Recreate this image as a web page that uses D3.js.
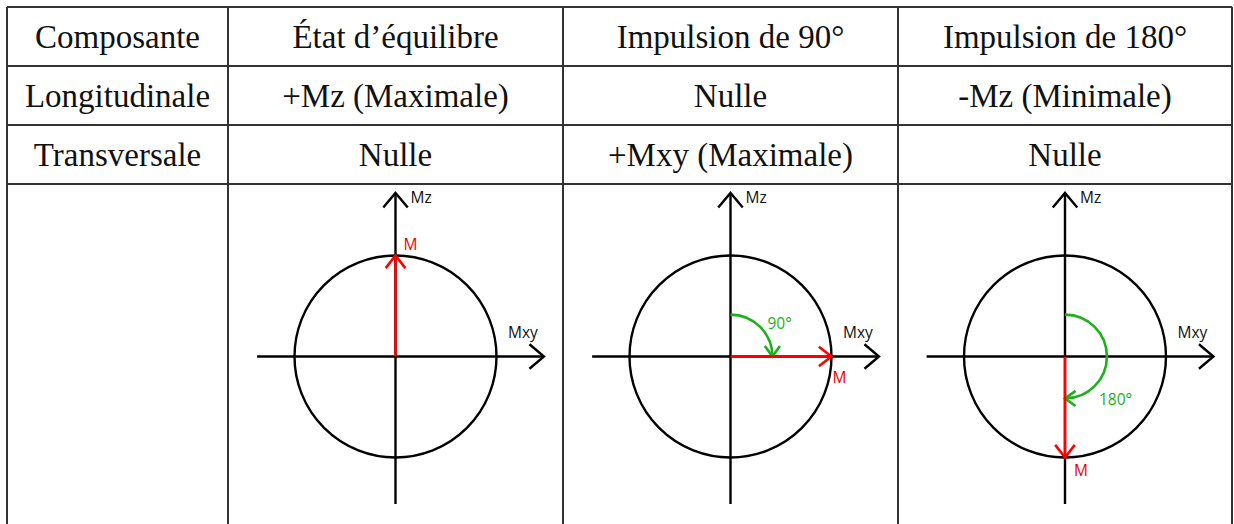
<html>
<head>
    <title>Magnetisation table</title>
    <meta charset="utf-8" />
    <style>
      body {
    margin: 0;
    padding: 0;
    background: #fff;
}
    </style>
    <script src="https://d3js.org/d3.v7.min.js"></script>
</head>
<body>
    <script>
// table content
var headers = ["Composante", "\u00c9tat d\u2019\u00e9quilibre", "Impulsion de 90\u00b0", "Impulsion de 180\u00b0"];
var rowNames = ["Longitudinale", "Transversale"];
var longitudinal = ["+Mz (Maximale)", "Nulle", "-Mz (Minimale)"];
var transversal = ["Nulle", "+Mxy (Maximale)", "Nulle"];

// flip angle of each diagram (degrees), and its label
var pulseAngles = [0, 90, 180];
var angleLabels = ["", "90\u00b0", "180\u00b0"];
var axisNames = ["Mz", "Mxy"];
var vectorName = "M";

var W = 1234, H = 524;
var colEdges = [7, 228, 563, 898, 1232];
var rowEdges = [7, 66, 125, 184];
var R = 101, cyDiag = 356.5;
var serif = "'Liberation Serif', 'Times New Roman', serif";
var sans = "'Open Sans', 'Noto Sans', sans-serif";
var green = "#1cb01c", red = "#f00";

// label placement per diagram (pixels, relative to arrow tip / centre)
var mOffset = [[8, -6], [1, 26], [9, 18]];
var angOffset = [[0, 0], [37, -28], [34, 48]];

var svg = d3.select("body").append("svg")
    .attr("width", W)
    .attr("height", H);

// grid
var grid = svg.append("g")
    .style("stroke", "#333")
    .style("stroke-width", 1.2)
    .style("shape-rendering", "crispEdges");
grid.selectAll("line.h").data(rowEdges).enter().append("line")
    .attr("x1", colEdges[0]).attr("x2", colEdges[colEdges.length - 1])
    .attr("y1", function (d) { return d; }).attr("y2", function (d) { return d; });
grid.selectAll("line.v").data(colEdges).enter().append("line")
    .attr("x1", function (d) { return d; }).attr("x2", function (d) { return d; })
    .attr("y1", rowEdges[0]).attr("y2", H);

function colMid(i) { return (colEdges[i] + colEdges[i + 1]) / 2; }

var rows = [headers, [rowNames[0]].concat(longitudinal), [rowNames[1]].concat(transversal)];
rows.forEach(function (row, r) {
    svg.append("g").selectAll("text").data(row).enter().append("text")
        .style("font-family", serif)
        .style("font-size", "33px")
        .style("fill", "#111")
        .attr("text-anchor", "middle")
        .attr("x", function (d, i) { return colMid(i); })
        .attr("y", (rowEdges[r] + rowEdges[r + 1]) / 2 + 11)
        .text(function (d) { return d; });
});

// chevron arrowhead at (tx,ty) pointing along (dx,dy)
function chevron(tx, ty, dx, dy, len, half) {
    var a = Math.atan2(dy, dx);
    var p1 = [tx - len * Math.cos(a - half), ty - len * Math.sin(a - half)];
    var p2 = [tx - len * Math.cos(a + half), ty - len * Math.sin(a + half)];
    return d3.line()([p1, [tx, ty], p2]);
}

function stroke(sel, color, w) {
    return sel.style("fill", "none").style("stroke", color).style("stroke-width", w);
}

function label(g, txt, x, y, color) {
    return g.append("text")
        .style("font-family", sans)
        .style("font-size", "15.5px")
        .style("fill", color)
        .attr("x", x).attr("y", y)
        .text(txt);
}

pulseAngles.forEach(function (deg, i) {
    var cx = colMid(i + 1);
    var x = d3.scaleLinear().domain([-1, 1]).range([cx - R, cx + R]);
    var y = d3.scaleLinear().domain([-1, 1]).range([cyDiag + R, cyDiag - R]);
    var g = svg.append("g");

    // axes
    var top = y(1.62), bottom = y(-1.46), left = x(-1.37), right = x(1.47);
    stroke(g.append("line"), "#000", 2.4)
        .attr("x1", x(0)).attr("x2", x(0)).attr("y1", bottom).attr("y2", top);
    stroke(g.append("path"), "#000", 2.4)
        .attr("d", chevron(x(0), top, 0, -1, 19, 0.7));
    stroke(g.append("line"), "#000", 2.4)
        .attr("x1", left).attr("x2", right).attr("y1", y(0)).attr("y2", y(0));
    stroke(g.append("path"), "#000", 2.4)
        .attr("d", chevron(right, y(0), 1, 0, 19, 0.7));
    label(g, axisNames[0], x(0) + 15, top + 10, "#111");
    label(g, axisNames[1], right - 36, y(0) - 19, "#111");

    // unit circle
    stroke(g.append("circle"), "#000", 2.4)
        .attr("cx", x(0)).attr("cy", y(0)).attr("r", x(1) - x(0));

    // green flip angle arc
    var th = deg * Math.PI / 180;
    if (deg > 0) {
        var ra = (x(0.415) - x(0));
        var arc = d3.arc().innerRadius(ra).outerRadius(ra).startAngle(0).endAngle(th);
        stroke(g.append("path"), green, 2.6)
            .attr("transform", "translate(" + x(0) + "," + y(0) + ")")
            .attr("d", arc());
        var ex = x(0) + ra * Math.sin(th), ey = y(0) - ra * Math.cos(th);
        stroke(g.append("path"), green, 2.6)
            .attr("d", chevron(ex, ey, Math.cos(th), Math.sin(th), 13, 0.62));
        label(g, angleLabels[i], x(0) + angOffset[i][0], y(0) + angOffset[i][1], green);
    }

    // red magnetisation vector
    var mx = Math.sin(th), mz = Math.cos(th);
    var tx = x(mx), ty = y(mz);
    stroke(g.append("line"), red, 2.6)
        .attr("x1", x(0)).attr("y1", y(0)).attr("x2", tx).attr("y2", ty);
    stroke(g.append("path"), red, 2.6)
        .attr("d", chevron(tx, ty, tx - x(0), ty - y(0), 16, 0.66));
    label(g, vectorName, tx + mOffset[i][0], ty + mOffset[i][1], "#e00");
});
    </script>
</body>
</html>
